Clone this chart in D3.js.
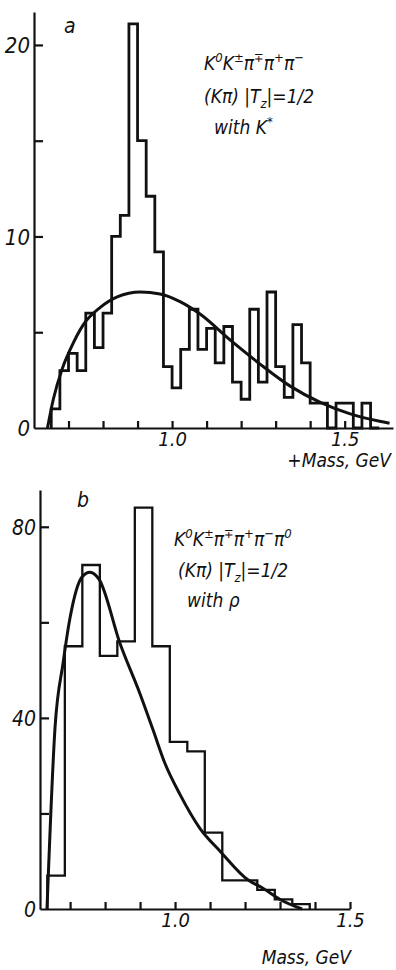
<!DOCTYPE html>
<html>
<head>
<meta charset="utf-8">
<script src="https://cdn.jsdelivr.net/npm/d3@7"></script>
<style>
  body { margin: 0; background: #fff; }
  svg text { font-family: "Liberation Sans Narrow", "DejaVu Sans Condensed", sans-serif; font-style: italic; fill: #111; }
</style>
</head>
<body>
<div id="chart"></div>
<script>
// panel a -- K0 K pi pi pi with K*, bins of 0.025 GeV
const edgesA = [0.650, 0.675, 0.700, 0.725, 0.750, 0.775, 0.800, 0.825, 0.850, 0.875,
  0.900, 0.925, 0.950, 0.975, 1.000, 1.025, 1.050, 1.075, 1.100, 1.125,
  1.150, 1.175, 1.200, 1.225, 1.250, 1.275, 1.300, 1.325, 1.350, 1.375,
  1.400, 1.425, 1.450, 1.475, 1.500, 1.525, 1.550, 1.575, 1.600]
const countsA = [1, 3, 3.9, 3, 6, 4.2, 6, 10, 11.1, 21.1,
  15, 12.1, 9.2, 3.2, 2.1, 4.1, 6.2, 4.1, 5.2, 3.4,
  5.3, 2.4, 1.5, 6.2, 2.4, 7.1, 3.2, 1.6, 5.4, 3.4,
  1.3, 1.3, 0, 1.3, 1.3, 0, 1.3, 0]
const fitMassA = [0.639, 0.656, 0.682, 0.705, 0.743, 0.792, 0.841, 0.908, 0.965, 1.023,
  1.081, 1.168, 1.254, 1.341, 1.428, 1.514, 1.601, 1.630]
const fitValA = [0, 1.5, 3.1, 4.1, 5.4, 6.3, 6.85, 7.1, 7.0, 6.6,
  5.95, 4.6, 3.35, 2.2, 1.35, 0.75, 0.35, 0.25]
const yTicksA = [0, 5, 10, 15, 20]
const yLabelsA = [0, 10, 20]
const xTicksA = [0.7, 0.8, 0.9, 1.0, 1.1, 1.2, 1.3, 1.4, 1.5]
const xLabelsA = [1.0, 1.5]

// panel b -- K0 K pi pi pi pi0 with rho, bins of 0.05 GeV
const edgesB = [0.635, 0.685, 0.735, 0.785, 0.835, 0.885, 0.935, 0.985, 1.035, 1.085,
  1.135, 1.185, 1.235, 1.285, 1.335, 1.385]
const countsB = [7, 55, 72, 53, 56, 84, 55, 35, 33, 16, 6, 6, 4, 2, 1]
const fitMassB = [0.634, 0.657, 0.680, 0.700, 0.734, 0.757, 0.783, 0.843, 0.900, 0.937,
  0.971, 1.014, 1.070, 1.130, 1.210, 1.250, 1.300, 1.363]
const fitValB = [0, 38, 51.5, 61, 69.5, 70.5, 69, 55.5, 45, 37.5,
  30.5, 24, 17, 12, 6, 4.4, 2, 0]
const yTicksB = [0, 20, 40, 60, 80]
const yLabelsB = [0, 40, 80]
const xTicksB = [0.7, 0.8, 0.9, 1.0, 1.1, 1.2, 1.3, 1.4, 1.5]
const xLabelsB = [1.0, 1.5]

const annotA = [
  [["K"], ["0", "sup"], ["K"], ["±", "sup"], ["π"], ["∓", "sup"], ["π"], ["+", "sup"], ["π"], ["−", "sup"]],
  [["(Kπ) |T"], ["z", "sub"], ["|=1/2"]],
  [["with K"], ["*", "sup"]]
]
const annotB = [
  [["K"], ["0", "sup"], ["K"], ["±", "sup"], ["π"], ["∓", "sup"], ["π"], ["+", "sup"], ["π"], ["−", "sup"], ["π"], ["0", "sup"]],
  [["(Kπ) |T"], ["z", "sub"], ["|=1/2"]],
  [["with ρ"]]
]

const width = 396
const height = 970

const svg = d3.select("#chart")
  .append("svg")
  .attr("width", width)
  .attr("height", height)

function drawPanel(p) {
  const x = d3.scaleLinear().domain(p.xDomain).range(p.xRange)
  const y = d3.scaleLinear().domain(p.yDomain).range(p.yRange)
  const g = svg.append("g")

  // y axis, ticks point inward
  const yAxis = g.append("g")
    .attr("transform", "translate(" + p.xRange[0] + ",0)")
    .call(d3.axisLeft(y).tickValues(p.yTicks).tickSize(-9).tickSizeOuter(0).tickPadding(4)
      .tickFormat(d => p.yLabels.includes(d) ? d : ""))
  yAxis.selectAll("text").style("font-size", p.yFont + "px").attr("dy", "0.36em")

  const xAxis = g.append("g")
    .attr("transform", "translate(0," + p.yRange[0] + ")")
    .call(d3.axisBottom(x).tickValues(p.xTicks).tickSize(-7).tickSizeOuter(0).tickPadding(4)
      .tickFormat(d => p.xLabels.includes(d) ? d3.format(".1f")(d) : ""))
  xAxis.selectAll("text").style("font-size", p.xFont + "px")

  g.selectAll(".domain, .tick line").attr("stroke", "#111").attr("stroke-width", 2.2)
  yAxis.selectAll(".tick").filter(d => d == 0).select("line").remove()

  // histogram outline
  const pts = [[p.edges[0], 0]]
  p.counts.forEach((c, i) => pts.push([p.edges[i], c]))
  pts.push([p.edges[p.edges.length - 1], 0])
  g.append("path")
    .attr("d", d3.line().x(d => x(d[0])).y(d => y(d[1])).curve(d3.curveStepAfter)(pts))
    .attr("fill", "none")
    .attr("stroke", "#111")
    .attr("stroke-width", p.histW)
    .attr("stroke-linejoin", "miter")

  // fitted curve
  g.append("path")
    .attr("d", d3.line().x((d, i) => x(p.fitMass[i])).y(d => y(d)).curve(d3.curveMonotoneX)(p.fitVal))
    .attr("fill", "none")
    .attr("stroke", "#111")
    .attr("stroke-width", 3)

  g.append("text")
    .attr("x", p.letter[1]).attr("y", p.letter[2])
    .style("font-size", "21px")
    .text(p.letter[0])

  g.append("text")
    .attr("x", p.xTitle[1]).attr("y", p.xTitle[2])
    .attr("text-anchor", "end")
    .style("font-size", "19px")
    .text(p.xTitle[0])

  p.annot.forEach((line, li) => {
    const t = g.append("text")
      .attr("x", p.annotPos[li][0])
      .attr("y", p.annotPos[li][1])
      .style("font-size", "19px")
    let shift = 0
    line.forEach(part => {
      const want = part[1] == "sup" ? -8 : part[1] == "sub" ? 5 : 0
      t.append("tspan")
        .attr("dy", want - shift)
        .style("font-size", part[1] ? "13px" : "19px")
        .text(part[0])
      shift = want
    })
  })
}

drawPanel({
  xDomain: [0.6, 1.64], xRange: [34, 393],
  yDomain: [0, 21.72], yRange: [428, 12],
  edges: edgesA, counts: countsA, fitMass: fitMassA, fitVal: fitValA,
  yTicks: yTicksA, yLabels: yLabelsA, xTicks: xTicksA, xLabels: xLabelsA,
  yFont: 22, xFont: 20, histW: 2.8,
  letter: ["a", 64, 33],
  xTitle: ["+Mass, GeV", 391, 467],
  annot: annotA,
  annotPos: [[204, 70], [204, 103], [214, 134]]
})

drawPanel({
  xDomain: [0.614, 1.5], xRange: [40, 350],
  yDomain: [0, 87.7], yRange: [909, 490],
  edges: edgesB, counts: countsB, fitMass: fitMassB, fitVal: fitValB,
  yTicks: yTicksB, yLabels: yLabelsB, xTicks: xTicksB, xLabels: xLabelsB,
  yFont: 21, xFont: 20, histW: 2.3,
  letter: ["b", 77, 507],
  xTitle: ["Mass, GeV", 351, 964],
  annot: annotB,
  annotPos: [[174, 546], [178, 577], [187, 607]]
})
</script>
</body>
</html>
